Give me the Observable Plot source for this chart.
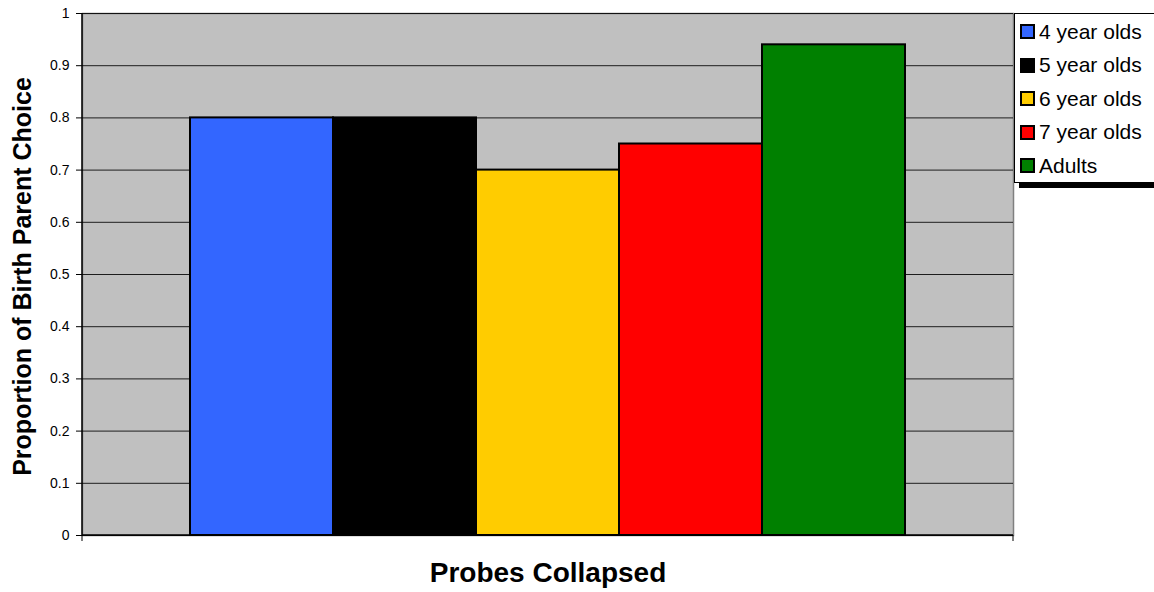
<!DOCTYPE html>
<html>
<head>
<meta charset="utf-8">
<script src="https://cdn.jsdelivr.net/npm/d3@7"></script>
<script src="https://cdn.jsdelivr.net/npm/@observablehq/plot@0.6"></script>
<style>
  html, body { margin: 0; padding: 0; background: #fff; }
  #wrap { position: relative; width: 1154px; height: 592px; overflow: hidden; font-family: "Liberation Sans", Arial, sans-serif; }
  #legend { position: absolute; left: 1014px; top: 13px; width: 150px; height: 167px; background: #fff; border: 1px solid #000; box-shadow: 5px 5px 0 #000; padding-top: 1px; box-sizing: content-box; }
  .item { height: 33.5px; display: flex; align-items: center; font-size: 21px; color: #000; }
  .sw { width: 11px; height: 11px; border: 2px solid #000; margin-left: 5px; margin-right: 4px; flex: none; }
</style>
</head>
<body>
<div id="wrap"><div id="chart"></div><div id="legend"></div></div>
<script>
const groups = ["4 year olds", "5 year olds", "6 year olds", "7 year olds", "Adults"];
const values = [0.80, 0.80, 0.70, 0.75, 0.94];
const colors = ["#3366FF", "#000000", "#FFCC00", "#FF0000", "#008000"];
const yTicks = [0, 0.1, 0.2, 0.3, 0.4, 0.5, 0.6, 0.7, 0.8, 0.9, 1];
const xTitle = "Probes Collapsed";
const yTitle = "Proportion of Birth Parent Choice";

const data = groups.map((g, i) => ({group: g, value: values[i]}));

// axis lines and category-edge ticks, derived from the plot's dimensions
function axisLines(index, scales, values, dim) {
  const g = d3.create("svg:g");
  const x0 = dim.marginLeft, x1 = dim.width - dim.marginRight;
  const y0 = dim.marginTop, y1 = dim.height - dim.marginBottom;
  g.append("line").attr("x1", x0).attr("x2", x0).attr("y1", y0).attr("y2", y1).attr("stroke", "#000").attr("stroke-width", 1.5);
  g.append("line").attr("x1", x0).attr("x2", x1).attr("y1", y1).attr("y2", y1).attr("stroke", "#000").attr("stroke-width", 1.5);
  for (const x of [x0, x1]) {
    g.append("line").attr("x1", x).attr("x2", x).attr("y1", y1).attr("y2", y1 + 6).attr("stroke", "#000");
  }
  return g.node();
}

const chart = Plot.plot({
  width: 1154,
  height: 592,
  marginLeft: 82,
  marginRight: 141,
  marginTop: 13,
  marginBottom: 57,
  style: {fontFamily: "'Liberation Sans', Arial, sans-serif", background: "transparent", color: "#000"},
  x: {domain: groups, paddingInner: 0, paddingOuter: 0.75, axis: null},
  y: {domain: [0, 1], ticks: yTicks},
  color: {domain: groups, range: colors},
  marks: [
    Plot.frame({fill: "#C0C0C0", stroke: "#808080", strokeWidth: 1.5}),
    Plot.gridY(yTicks, {stroke: "#000", strokeOpacity: 0.85, strokeWidth: 1}),
    Plot.barY(data, {x: "group", y: "value", fill: "group", stroke: "#000", strokeWidth: 2}),
    axisLines,
    Plot.axisY(yTicks, {tickSize: 6, tickPadding: 7, fontSize: 14, label: null, stroke: "#000", tickFormat: d => String(d)}),
    Plot.text([xTitle], {frameAnchor: "bottom", dy: 38, fontSize: 28, fontWeight: "bold", lineAnchor: "middle"}),
    Plot.text([yTitle], {frameAnchor: "left", textAnchor: "middle", rotate: -90, dx: -60, dy: 2, fontSize: 25, fontWeight: "bold", lineAnchor: "middle"})
  ]
});
document.getElementById("chart").appendChild(chart);

const legend = d3.select("#legend");
groups.forEach((g, i) => {
  const row = legend.append("div").attr("class", "item");
  row.append("div").attr("class", "sw").style("background", colors[i]);
  row.append("span").text(g);
});
</script>
</body>
</html>
